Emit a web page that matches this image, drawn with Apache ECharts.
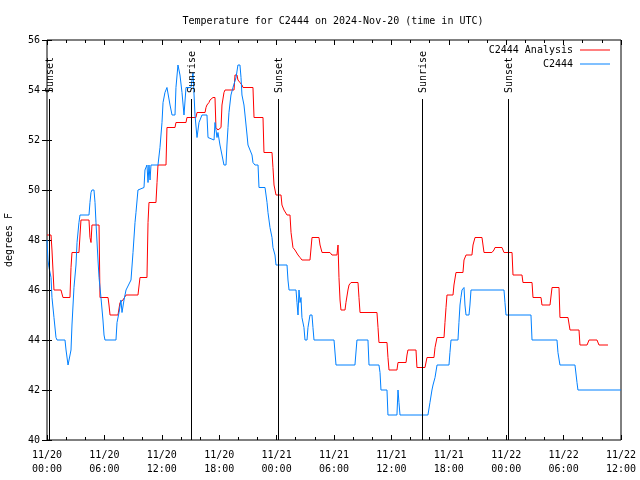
<!DOCTYPE html>
<html>
<head>
<meta charset="utf-8">
<script src="https://cdn.jsdelivr.net/npm/echarts@6/dist/echarts.min.js"></script>
<style>
html,body{margin:0;padding:0;background:#fff;}
#chart{width:640px;height:480px;}
</style>
</head>
<body>
<div id="chart"></div>
<script>
// Hours since 2024-11-20 00:00 UTC
const xTickLabels = ['11/20\n00:00','11/20\n06:00','11/20\n12:00','11/20\n18:00','11/21\n00:00','11/21\n06:00','11/21\n12:00','11/21\n18:00','11/22\n00:00','11/22\n06:00','11/22\n12:00'];
const yTickValues = [40,42,44,46,48,50,52,54,56];

const analysisHours = [0.00,0.42,0.52,0.63,0.73,1.46,1.67,2.40,2.51,2.61,3.34,3.55,4.39,4.49,4.60,4.70,5.44,5.54,6.38,6.48,6.59,7.42,7.63,7.94,8.26,9.51,9.72,10.45,10.56,10.66,11.39,11.50,11.60,12.44,12.54,13.38,13.48,14.53,14.63,15.57,15.68,16.52,16.62,16.72,16.93,17.04,17.35,17.56,17.66,17.87,18.19,18.29,18.50,18.61,19.55,19.65,19.86,19.96,20.17,20.38,20.49,21.53,21.64,22.58,22.68,23.52,23.62,23.73,23.94,24.46,24.56,24.77,25.09,25.40,25.51,25.71,25.92,26.24,26.45,26.65,27.49,27.70,28.43,28.54,28.75,29.58,29.79,30.31,30.42,30.52,30.63,30.73,31.15,31.25,31.46,31.57,31.78,32.51,32.61,32.72,34.49,34.60,34.70,35.54,35.64,35.75,36.58,36.69,37.53,37.63,37.73,38.57,38.67,39.51,39.72,40.45,40.56,40.77,41.50,41.60,41.71,41.81,42.44,42.54,42.75,43.48,43.59,43.80,44.42,44.53,44.74,45.47,45.68,46.51,46.72,46.83,47.56,47.77,48.61,48.71,49.65,49.75,50.70,50.80,51.64,51.74,52.58,52.79,53.52,53.62,54.46,54.67,55.61,55.71,56.45,56.66,57.49,57.70,58.64];
const analysisTemps = [48.2,48.2,47.6,47.6,46.0,46.0,45.7,45.7,46.9,47.5,47.5,48.8,48.8,48.1,47.9,48.6,48.6,45.7,45.7,45.4,45.0,45.0,45.5,45.6,45.8,45.8,46.5,46.5,48.7,49.5,49.5,50.3,51.0,51.0,52.5,52.5,52.7,52.7,52.9,52.9,53.1,53.1,53.3,53.4,53.5,53.6,53.7,53.7,52.5,52.4,52.5,53.4,53.9,54.0,54.0,54.6,54.6,54.4,54.3,54.2,54.1,54.1,52.9,52.9,51.5,51.5,50.9,50.2,49.8,49.8,49.4,49.2,49.0,49.0,48.3,47.7,47.6,47.4,47.3,47.2,47.2,48.1,48.1,47.8,47.5,47.5,47.4,47.4,47.8,46.5,45.6,45.2,45.2,45.5,46.0,46.2,46.3,46.3,45.7,45.1,45.1,44.5,43.9,43.9,43.3,42.8,42.8,43.1,43.1,43.4,43.6,43.6,42.9,42.9,43.3,43.3,43.7,44.1,44.1,44.7,45.3,45.8,45.8,46.2,46.7,46.7,47.2,47.4,47.4,47.8,48.1,48.1,47.5,47.5,47.6,47.7,47.7,47.5,47.5,46.6,46.6,46.3,46.3,45.7,45.7,45.4,45.4,46.1,46.1,44.9,44.9,44.4,44.4,43.8,43.8,44.0,44.0,43.8,43.8];

const obsHours = [0.00,0.10,0.21,0.42,0.52,0.73,0.94,1.05,1.88,1.99,2.20,2.40,2.51,2.61,2.82,3.03,3.14,3.34,3.45,4.39,4.49,4.60,4.70,4.91,5.02,5.12,5.33,5.44,5.64,5.85,5.96,6.06,7.21,7.32,7.53,7.73,7.84,8.05,8.26,8.78,8.99,9.20,9.30,9.51,10.14,10.24,10.45,10.56,10.66,10.77,10.87,11.60,11.81,12.02,12.13,12.33,12.54,12.65,12.86,13.07,13.38,13.48,13.69,13.90,14.11,14.32,14.53,15.05,15.26,15.47,15.68,15.89,16.20,16.72,16.83,17.46,17.56,17.77,17.87,18.08,18.29,18.50,18.71,18.81,18.92,19.02,19.23,19.44,19.76,19.96,20.17,20.28,20.38,20.59,20.70,20.91,21.01,21.43,21.53,21.74,22.06,22.16,22.79,23.00,23.10,23.31,23.52,23.62,23.83,23.94,25.09,25.19,25.30,26.03,26.13,26.24,26.34,26.45,26.55,26.65,26.86,26.97,27.18,27.28,27.49,27.70,27.80,27.91,30.00,30.21,32.19,32.40,33.55,33.66,34.70,34.81,34.91,35.54,35.64,36.58,36.69,36.79,36.90,39.82,40.03,40.24,40.35,40.56,40.77,42.02,42.12,42.23,42.96,43.06,43.17,43.27,43.38,43.59,43.69,43.80,44.11,44.21,44.32,47.77,47.87,47.98,50.59,50.70,53.31,53.41,53.62,55.19,55.40,55.50,60.00];
const obsTemps = [48.0,47.2,46.9,46.5,45.7,44.9,44.1,44.0,44.0,43.6,43.0,43.0,43.6,44.6,46.1,47.0,47.9,48.7,49.0,49.0,49.5,49.9,50.0,50.0,49.5,48.7,47.2,46.5,45.7,44.8,44.2,44.0,44.0,44.7,45.1,45.6,45.1,45.6,46.0,46.4,47.5,48.7,49.1,50.0,50.1,50.8,51.0,50.3,51.0,50.4,51.0,51.0,51.7,52.7,53.5,53.9,54.1,54.1,53.4,53.0,53.0,54.1,55.0,54.6,53.9,53.0,54.1,54.1,54.7,53.0,52.1,52.7,53.0,53.0,52.1,52.0,52.7,52.1,52.3,51.8,51.4,51.0,51.0,51.8,52.5,53.1,53.8,54.1,54.5,55.0,55.0,54.5,53.8,53.4,53.0,52.2,51.8,51.4,51.1,51.0,51.0,50.1,50.1,49.5,49.1,48.5,48.1,47.7,47.4,47.0,47.0,46.4,46.0,46.0,45.5,45.0,46.0,45.5,45.7,44.9,44.5,44.0,44.0,44.5,45.0,45.0,44.5,44.0,44.0,43.0,43.0,44.0,44.0,43.0,43.0,42.7,42.0,42.0,41.0,41.0,42.0,41.5,41.0,41.0,41.5,42.0,42.2,42.5,43.0,43.0,43.5,44.0,44.0,44.7,45.4,45.7,46.0,46.1,45.4,45.0,45.0,45.4,46.0,46.0,45.5,45.0,45.0,44.0,44.0,43.5,43.0,43.0,42.3,42.0,42.0];

const eventHours = [0.21,15.05,24.15,39.20,48.19];
const eventNames = ['Sunset','Sunrise','Sunset','Sunrise','Sunset'];

const FONT = '"DejaVu Sans Mono", "Liberation Mono", monospace';
const zip = (a, b) => a.map((v, i) => [v, b[i]]);

const chart = echarts.init(document.getElementById('chart'), null, {renderer: 'canvas'});

const xBase = {
  type: 'value', min: 0, max: 60, interval: 6,
  axisLine: {show: false},
  splitLine: {show: false},
  axisTick: {show: true, inside: true, length: 5, lineStyle: {color: '#000'}},
  minorTick: {show: true, splitNumber: 3, length: 3, lineStyle: {color: '#000'}}
};
const yBase = {
  type: 'value', min: 40, max: 56, interval: 2,
  axisLine: {show: false},
  splitLine: {show: false},
  axisTick: {show: true, inside: true, length: 5, lineStyle: {color: '#000'}}
};

const legendBase = {
  right: 30, orient: 'horizontal', align: 'right', padding: 0,
  icon: 'rect', itemWidth: 30, itemHeight: 1, itemGap: 0,
  textStyle: {fontFamily: FONT, fontSize: 10, color: '#000', padding: [0, 2, 0, 0]},
  selectedMode: false
};

chart.setOption({
  animation: false,
  backgroundColor: '#fff',
  title: {
    text: 'Temperature for C2444 on 2024-Nov-20 (time in UTC)',
    left: 328, textAlign: 'center', top: 11,
    textStyle: {fontFamily: FONT, fontSize: 10, fontWeight: 'normal', color: '#000'}
  },
  legend: [
    Object.assign({}, legendBase, {data: ['C2444 Analysis'], top: 45}),
    Object.assign({}, legendBase, {data: ['C2444'], top: 59})
  ],
  grid: {left: 47, right: 19, top: 40, bottom: 40, show: true, borderColor: '#000', borderWidth: 1,
         backgroundColor: 'transparent', containLabel: false, outerBoundsMode: 'none'},
  xAxis: [
    Object.assign({}, xBase, {
      position: 'bottom',
      axisLabel: {
        fontFamily: FONT, fontSize: 10, color: '#000', margin: 8, lineHeight: 14,
        formatter: v => xTickLabels[Math.round(v / 6)] || ''
      }
    }),
    Object.assign({}, xBase, {position: 'top', axisLabel: {show: false}})
  ],
  yAxis: [
    Object.assign({}, yBase, {
      position: 'left',
      name: 'degrees F', nameLocation: 'middle', nameGap: 33,
      nameTextStyle: {fontFamily: FONT, fontSize: 10, color: '#000'},
      axisLabel: {fontFamily: FONT, fontSize: 10, color: '#000', margin: 7,
        formatter: v => (yTickValues.indexOf(v) >= 0 ? String(v) : '')}
    }),
    Object.assign({}, yBase, {position: 'right', axisLabel: {show: false}})
  ],
  series: [
    {
      name: 'C2444 Analysis', type: 'line', data: zip(analysisHours, analysisTemps),
      showSymbol: false, symbol: 'none', lineStyle: {color: '#ff0000', width: 1}, itemStyle: {color: '#ff0000'},
      z: 3
    },
    {
      name: 'C2444', type: 'line', data: zip(obsHours, obsTemps),
      showSymbol: false, symbol: 'none', lineStyle: {color: '#0080ff', width: 1}, itemStyle: {color: '#0080ff'},
      z: 4
    },
    {
      name: 'events', type: 'custom', z: 5,
      data: eventHours.map(h => [h, 40]),
      renderItem: function (params, api) {
        const p = api.coord([api.value(0), api.value(1)]);
        const x = Math.round(p[0]) + 0.5;
        return {
          type: 'group',
          children: [
            {type: 'line', shape: {x1: x, y1: p[1], x2: x, y2: 99},
             style: {stroke: '#000', lineWidth: 1}},
            {type: 'text', x: x + 1, y: 93, rotation: Math.PI / 2,
             style: {text: eventNames[params.dataIndex], font: '10px ' + FONT, fill: '#000',
                     align: 'left', verticalAlign: 'middle'}}
          ]
        };
      }
    }
  ]
});
</script>
</body>
</html>
